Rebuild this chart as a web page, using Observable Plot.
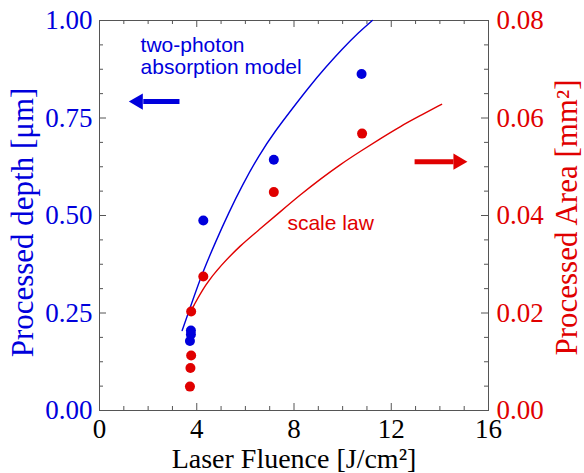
<!DOCTYPE html>
<html><head><meta charset="utf-8">
<script src="https://cdn.jsdelivr.net/npm/d3@7"></script>
<script src="https://cdn.jsdelivr.net/npm/@observablehq/plot@0.6"></script>
<style>body{margin:0;background:#fff} #chart{width:584px;height:473px}</style>
</head><body><div id="chart"></div>
<script>
// ---- data ----
const depthX = [3.76, 3.76, 3.72, 4.27, 7.17, 10.78];
const depthY = [0.205, 0.195, 0.178, 0.487, 0.643, 0.863];          // µm (left axis)
const areaX  = [3.72, 3.74, 3.77, 3.77, 4.27, 7.17, 10.8];
const areaY  = [0.0049, 0.0087, 0.0113, 0.0203, 0.0275, 0.0448, 0.0568]; // mm² (right axis)
const modelX = [3.40, 3.81, 4.22, 4.77, 5.32, 5.87, 6.55, 7.24, 7.93, 8.61, 9.30, 9.98, 10.67, 11.22];
const modelY = [0.205, 0.278, 0.351, 0.432, 0.508, 0.577, 0.654, 0.718, 0.774, 0.829, 0.880, 0.927, 0.970, 1.000];
const lawX   = [3.81, 4.36, 4.98, 5.80, 6.62, 7.44, 8.27, 9.09, 9.91, 10.74, 11.56, 12.38, 13.20, 14.07];
const lawY   = [0.0209, 0.0259, 0.0297, 0.0339, 0.0373, 0.0408, 0.0443, 0.0475, 0.0505, 0.0532, 0.0558, 0.0583, 0.0605, 0.0628];
const xTicks = [0, 4, 8, 12, 16];
const depthTicks = [0, 0.25, 0.5, 0.75, 1.0];
const areaTicks = [0, 0.02, 0.04, 0.06, 0.08];
const AREA_MAX = 0.08, DEPTH_MAX = 1.0;
const labels = ["two-photon", "absorption model", "scale law"];
const labelX = [1.69, 1.69, 7.73];
const labelY = [0.936, 0.879, 0.479];
const arrowTailX = [3.29, 12.96];
const arrowBaseX = [1.80, 14.56];
const arrowTipCX = [1.59, 14.75];
const arrowY = [0.792, 0.638];

const BLUE = "#0000dc", RED = "#e00000", FRAME = "#555";
const toDepth = a => a / AREA_MAX * DEPTH_MAX;

const depth = depthX.map((x, i) => ({x, y: depthY[i]}));
const area = areaX.map((x, i) => ({x, y: toDepth(areaY[i])}));
const model = modelX.map((x, i) => ({x, y: modelY[i]}));
const law = lawX.map((x, i) => ({x, y: toDepth(lawY[i])}));
const notes = labels.map((t, i) => ({t, x: labelX[i], y: labelY[i], c: i < 2 ? BLUE : RED}));
const arrows = arrowY.map((y, i) => ({x1: arrowTailX[i], x2: arrowBaseX[i], xt: arrowTipCX[i], y, c: i === 0 ? BLUE : RED, r: i === 0 ? -90 : 90}));

const W = 584, H = 473, mL = 99, mR = 96, mT = 20, mB = 63;
const iw = W - mL - mR, ih = H - mT - mB;
const xMinor = d3.range(0, 16.5, 1).filter(v => v % 4 !== 0);
const yMinor = d3.range(0, 1.0001, 0.0625).filter(v => Math.abs(v / 0.25 - Math.round(v / 0.25)) > 1e-6);
const MAJ = 7, MIN = 4;

const chart = Plot.plot({
  width: W, height: H,
  marginLeft: mL, marginRight: mR, marginTop: mT, marginBottom: mB,
  style: {fontFamily: "Liberation Serif", fontSize: "27px", background: "#fff"},
  x: {domain: [0, 16]},
  y: {domain: [0, 1]},
  marks: [
    // inward ticks
    Plot.tickX(xTicks, {x: d => d, insetTop: ih - MAJ, stroke: FRAME}),
    Plot.tickX(xMinor, {x: d => d, insetTop: ih - MIN, stroke: FRAME}),
    Plot.tickX(xTicks, {x: d => d, insetBottom: ih - MAJ, stroke: FRAME}),
    Plot.tickX(xMinor, {x: d => d, insetBottom: ih - MIN, stroke: FRAME}),
    Plot.tickY(depthTicks, {y: d => d, insetRight: iw - MAJ, stroke: FRAME}),
    Plot.tickY(yMinor, {y: d => d, insetRight: iw - MIN, stroke: FRAME}),
    Plot.tickY(depthTicks, {y: d => d, insetLeft: iw - MAJ, stroke: FRAME}),
    Plot.tickY(yMinor, {y: d => d, insetLeft: iw - MIN, stroke: FRAME}),
    Plot.frame({stroke: FRAME}),
    // axes
    Plot.axisX(xTicks, {tickSize: 0, tickPadding: 8, fill: "#000", label: null, fontSize: 27}),
    Plot.axisY(depthTicks, {anchor: "left", tickSize: 0, tickPadding: 7, tickFormat: d => d.toFixed(2), fill: BLUE, label: null, fontSize: 27}),
    Plot.axisY(areaTicks.map(toDepth), {anchor: "right", tickSize: 0, tickPadding: 8, tickFormat: d => (d / DEPTH_MAX * AREA_MAX).toFixed(2), fill: RED, label: null, fontSize: 27}),
    Plot.text(["Laser Fluence [J/cm²]"], {frameAnchor: "bottom", textAnchor: "middle", lineAnchor: "middle", dy: 49, fill: "#000", fontSize: 28}),
    Plot.text(["Processed depth [μm]"], {frameAnchor: "left", textAnchor: "middle", lineAnchor: "middle", rotate: -90, dx: -76, dy: 7, fill: BLUE, fontSize: 31}),
    Plot.text(["Processed Area [mm²]"], {frameAnchor: "right", textAnchor: "middle", lineAnchor: "middle", rotate: -90, dx: 79, dy: 2, fill: RED, fontSize: 31}),
    // curves
    Plot.line(model, {x: "x", y: "y", stroke: BLUE, strokeWidth: 1.4, curve: "basis"}),
    Plot.line(law, {x: "x", y: "y", stroke: RED, strokeWidth: 1.4, curve: "basis"}),
    // points
    Plot.dot(depth, {x: "x", y: "y", r: 5, fill: BLUE}),
    Plot.dot(area, {x: "x", y: "y", r: 5, fill: RED}),
    // annotations
    Plot.text(notes, {x: "x", y: "y", text: "t", fill: "c", textAnchor: "start", fontFamily: "Liberation Sans", fontSize: 21}),
    Plot.link(arrows, {x1: "x1", x2: "x2", y1: "y", y2: "y", stroke: "c", strokeWidth: 5}),
    Plot.dot(arrows, {x: "xt", y: "y", symbol: "triangle", r: 6, rotate: "r", fill: "c", stroke: "none"})
  ]
});
document.getElementById("chart").appendChild(chart);
</script>
</body></html>
